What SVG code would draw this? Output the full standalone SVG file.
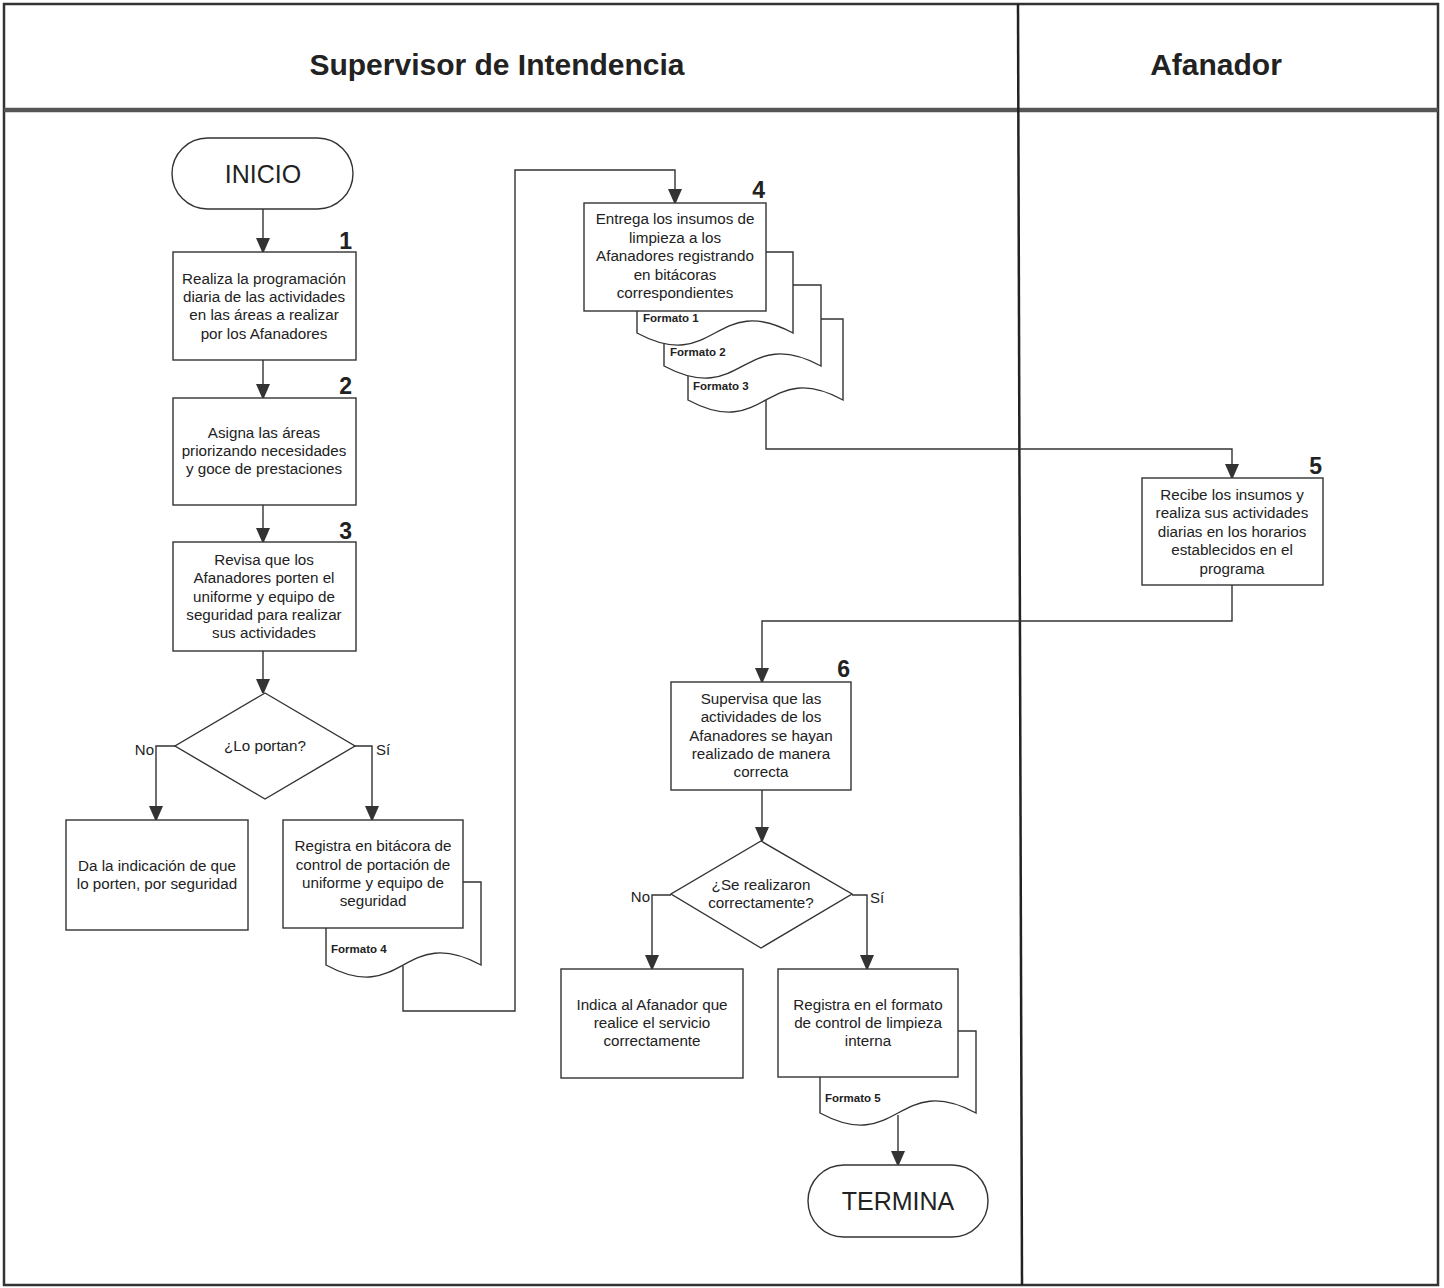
<svg xmlns="http://www.w3.org/2000/svg" width="1444" height="1288" viewBox="0 0 1444 1288">
<style>
  text { font-family: "Liberation Sans", Arial, sans-serif; fill: #222; }
  .t { font-size: 15.2px; text-anchor: middle; }
  .num { font-size: 23px; font-weight: bold; text-anchor: end; }
  .hdr { font-size: 30px; font-weight: bold; text-anchor: middle; }
  .term { font-size: 25px; text-anchor: middle; }
  .fmt { font-size: 11.5px; font-weight: bold; }
  .lbl { font-size: 15px; }
  .box { fill: #fff; stroke: #333; stroke-width: 1.4; }
  .conn { fill: none; stroke: #333; stroke-width: 1.4; }
  .frame { fill: none; stroke: #333; stroke-width: 2.5; }
</style>
<defs>
  <marker id="arr" viewBox="0 0 14 16" refX="14" refY="7" markerWidth="14" markerHeight="16" markerUnits="userSpaceOnUse" orient="auto">
    <path d="M0,0 L16,7 L0,14 Z" fill="#333"/>
  </marker>
</defs>
<rect x="0" y="0" width="1444" height="1288" fill="#fff"/>

<g id="frame">
  <rect class="frame" x="4" y="4" width="1434" height="1281"/>
  <line x1="4" y1="110" x2="1438" y2="110" stroke="#555" stroke-width="4.5"/>
  <line x1="1018" y1="4" x2="1022" y2="1285" stroke="#222" stroke-width="2.5"/>
  <text class="hdr" x="497" y="75">Supervisor de Intendencia</text>
  <text class="hdr" x="1216" y="75">Afanador</text>
</g>

<g id="connectors">
  <path class="conn" d="M263,209 V252" marker-end="url(#arr)"/>
  <path class="conn" d="M263,360 V398" marker-end="url(#arr)"/>
  <path class="conn" d="M263,505 V542" marker-end="url(#arr)"/>
  <path class="conn" d="M263,651 V693" marker-end="url(#arr)"/>
  <path class="conn" d="M175,746 H156 V820" marker-end="url(#arr)"/>
  <path class="conn" d="M355,746 H372 V820" marker-end="url(#arr)"/>
  <path class="conn" d="M403,966 V1011 H515 V170 H675 V203" marker-end="url(#arr)"/>
  <path class="conn" d="M766,400 V449 H1232 V478" marker-end="url(#arr)"/>
  <path class="conn" d="M1232,585 V621 H762 V682" marker-end="url(#arr)"/>
  <path class="conn" d="M762,790 V841" marker-end="url(#arr)"/>
  <path class="conn" d="M671,895 H652 V969" marker-end="url(#arr)"/>
  <path class="conn" d="M852,895 H867 V969" marker-end="url(#arr)"/>
  <path class="conn" d="M898,1115 V1165" marker-end="url(#arr)"/>
</g>

<g id="inicio">
  <rect class="box" x="172" y="138" width="181" height="71" rx="35.5" ry="35.5"/>
  <text class="term" x="263" y="183">INICIO</text>
</g>

<g id="paso1">
  <rect class="box" x="173" y="252" width="183" height="108"/>
  <text class="num" x="352" y="249">1</text>
  <text class="t" x="264" y="284">Realiza la programación</text>
  <text class="t" x="264" y="302">diaria de las actividades</text>
  <text class="t" x="264" y="320">en las áreas a realizar</text>
  <text class="t" x="264" y="339">por los Afanadores</text>
</g>

<g id="paso2">
  <rect class="box" x="173" y="398" width="183" height="107"/>
  <text class="num" x="352" y="394">2</text>
  <text class="t" x="264" y="438">Asigna las áreas</text>
  <text class="t" x="264" y="456">priorizando necesidades</text>
  <text class="t" x="264" y="474">y goce de prestaciones</text>
</g>

<g id="paso3">
  <rect class="box" x="173" y="542" width="183" height="109"/>
  <text class="num" x="352" y="539">3</text>
  <text class="t" x="264" y="565">Revisa que los</text>
  <text class="t" x="264" y="583">Afanadores porten el</text>
  <text class="t" x="264" y="602">uniforme y equipo de</text>
  <text class="t" x="264" y="620">seguridad para realizar</text>
  <text class="t" x="264" y="638">sus actividades</text>
</g>

<g id="decision1">
  <path class="box" d="M265,693 L355,746 L265,799 L175,746 Z"/>
  <text class="t" x="265" y="751">¿Lo portan?</text>
  <text class="lbl" x="154" y="755" text-anchor="end">No</text>
  <text class="lbl" x="376" y="755">Sí</text>
</g>

<g id="no1">
  <rect class="box" x="66" y="820" width="182" height="110"/>
  <text class="t" x="157" y="871">Da la indicación de que</text>
  <text class="t" x="157" y="889">lo porten, por seguridad</text>
</g>

<g id="si1">
  <path class="box" d="M326,882 H481 V965 C403,923 403,1007 326,965 Z"/>
  <rect class="box" x="283" y="820" width="180" height="108"/>
  <text class="t" x="373" y="851">Registra en bitácora de</text>
  <text class="t" x="373" y="870">control de portación de</text>
  <text class="t" x="373" y="888">uniforme y equipo de</text>
  <text class="t" x="373" y="906">seguridad</text>
  <text class="fmt" x="331" y="953">Formato 4</text>
</g>

<g id="paso4">
  <path class="box" d="M688,319 H843 V400 C766,358 766,442 688,400 Z"/>
  <path class="box" d="M664,285 H821 V366 C743,324 743,408 664,366 Z"/>
  <path class="box" d="M637,252 H793 V333 C715,291 715,375 637,333 Z"/>
  <rect class="box" x="584" y="203" width="182" height="108"/>
  <text class="num" x="765" y="198">4</text>
  <text class="t" x="675" y="224">Entrega los insumos de</text>
  <text class="t" x="675" y="243">limpieza a los</text>
  <text class="t" x="675" y="261">Afanadores registrando</text>
  <text class="t" x="675" y="280">en bitácoras</text>
  <text class="t" x="675" y="298">correspondientes</text>
  <text class="fmt" x="643" y="322">Formato 1</text>
  <text class="fmt" x="670" y="356">Formato 2</text>
  <text class="fmt" x="693" y="390">Formato 3</text>
</g>

<g id="paso5">
  <rect class="box" x="1142" y="478" width="181" height="107"/>
  <text class="num" x="1322" y="474">5</text>
  <text class="t" x="1232" y="500">Recibe los insumos y</text>
  <text class="t" x="1232" y="518">realiza sus actividades</text>
  <text class="t" x="1232" y="537">diarias en los horarios</text>
  <text class="t" x="1232" y="555">establecidos en el</text>
  <text class="t" x="1232" y="574">programa</text>
</g>

<g id="paso6">
  <rect class="box" x="671" y="682" width="180" height="108"/>
  <text class="num" x="850" y="677">6</text>
  <text class="t" x="761" y="704">Supervisa que las</text>
  <text class="t" x="761" y="722">actividades de los</text>
  <text class="t" x="761" y="741">Afanadores se hayan</text>
  <text class="t" x="761" y="759">realizado de manera</text>
  <text class="t" x="761" y="777">correcta</text>
</g>

<g id="decision2">
  <path class="box" d="M761,841 L852,894 L761,948 L671,894 Z"/>
  <text class="t" x="761" y="890">¿Se realizaron</text>
  <text class="t" x="761" y="908">correctamente?</text>
  <text class="lbl" x="650" y="902" text-anchor="end">No</text>
  <text class="lbl" x="870" y="903">Sí</text>
</g>

<g id="no2">
  <rect class="box" x="561" y="969" width="182" height="109"/>
  <text class="t" x="652" y="1010">Indica al Afanador que</text>
  <text class="t" x="652" y="1028">realice el servicio</text>
  <text class="t" x="652" y="1046">correctamente</text>
</g>

<g id="si2">
  <path class="box" d="M820,1031 H976 V1113 C898,1071 898,1155 820,1113 Z"/>
  <rect class="box" x="778" y="969" width="180" height="108"/>
  <text class="t" x="868" y="1010">Registra en el formato</text>
  <text class="t" x="868" y="1028">de control de limpieza</text>
  <text class="t" x="868" y="1046">interna</text>
  <text class="fmt" x="825" y="1102">Formato 5</text>
</g>

<g id="termina">
  <rect class="box" x="808" y="1165" width="180" height="72" rx="36" ry="36"/>
  <text class="term" x="898" y="1210">TERMINA</text>
</g>
</svg>
